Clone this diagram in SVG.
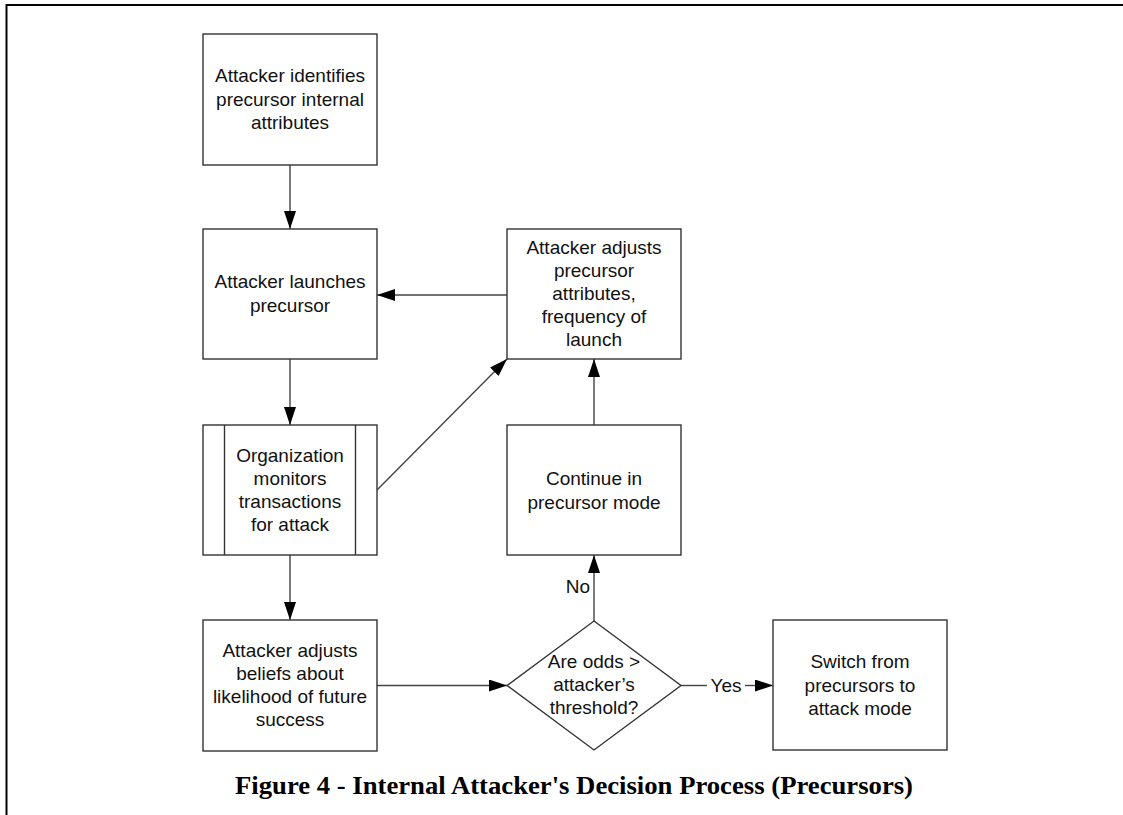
<svg xmlns="http://www.w3.org/2000/svg" width="1123" height="815" viewBox="0 0 1123 815">
  <defs>
    <marker id="arrow" viewBox="0 0 18 12" markerWidth="18" markerHeight="12" refX="18" refY="6" orient="auto" markerUnits="userSpaceOnUse">
      <path d="M0,0 L18,6 L0,12 Z" fill="#000"/>
    </marker>
    <style>
      .box { fill: #fff; stroke: #333; stroke-width: 1.4; }
      .edge { fill: none; stroke: #444; stroke-width: 1.4; }
      .arr { marker-end: url(#arrow); }
      .lbl { font-family: "Liberation Sans", Arial, sans-serif; font-size: 19px; fill: #111; text-anchor: middle; }
      .cap { font-family: "Liberation Serif", "Times New Roman", serif; font-size: 26px; font-weight: bold; fill: #000; }
    </style>
  </defs>

  <rect width="1123" height="815" fill="#fff"/>

  <!-- page frame -->
  <path d="M6.5,815 V5 H1123" fill="none" stroke="#000" stroke-width="2"/>

  <g id="connectors">
    <line class="edge arr" x1="290" y1="165" x2="290" y2="229"/>
    <line class="edge arr" x1="290" y1="359" x2="290" y2="425"/>
    <line class="edge arr" x1="290" y1="555" x2="290" y2="620"/>
    <line class="edge arr" x1="507" y1="295" x2="377" y2="295"/>
    <line class="edge arr" x1="377" y1="490" x2="507" y2="359"/>
    <line class="edge arr" x1="594" y1="425" x2="594" y2="359"/>
    <line class="edge arr" x1="377" y1="685.5" x2="507" y2="685.5"/>
    <line class="edge arr" x1="594" y1="621" x2="594" y2="555"/>
    <line class="edge" x1="681" y1="685.5" x2="707" y2="685.5"/>
    <line class="edge arr" x1="745" y1="685.5" x2="773" y2="685.5"/>
    <text class="lbl" x="590" y="593" style="text-anchor:end">No</text>
    <text class="lbl" x="726" y="692">Yes</text>
  </g>

  <g id="identify">
    <rect class="box" x="203" y="34" width="174" height="131"/>
    <text class="lbl" x="290" y="82">Attacker identifies</text>
    <text class="lbl" x="290" y="105.5">precursor internal</text>
    <text class="lbl" x="290" y="129">attributes</text>
  </g>

  <g id="launch">
    <rect class="box" x="203" y="229" width="174" height="130"/>
    <text class="lbl" x="290" y="288">Attacker launches</text>
    <text class="lbl" x="290" y="311.5">precursor</text>
  </g>

  <g id="monitor">
    <rect class="box" x="203" y="425" width="174" height="130"/>
    <line class="box" x1="224.5" y1="425" x2="224.5" y2="555"/>
    <line class="box" x1="355.5" y1="425" x2="355.5" y2="555"/>
    <text class="lbl" x="290" y="461.5">Organization</text>
    <text class="lbl" x="290" y="484.5">monitors</text>
    <text class="lbl" x="290" y="507.5">transactions</text>
    <text class="lbl" x="290" y="530.5">for attack</text>
  </g>

  <g id="beliefs">
    <rect class="box" x="203" y="620" width="174" height="131"/>
    <text class="lbl" x="290" y="657">Attacker adjusts</text>
    <text class="lbl" x="290" y="680">beliefs about</text>
    <text class="lbl" x="290" y="703">likelihood of future</text>
    <text class="lbl" x="290" y="726">success</text>
  </g>

  <g id="adjust">
    <rect class="box" x="507" y="229" width="174" height="130"/>
    <text class="lbl" x="594" y="254">Attacker adjusts</text>
    <text class="lbl" x="594" y="277">precursor</text>
    <text class="lbl" x="594" y="300">attributes,</text>
    <text class="lbl" x="594" y="323">frequency of</text>
    <text class="lbl" x="594" y="346">launch</text>
  </g>

  <g id="continue">
    <rect class="box" x="507" y="425" width="174" height="130"/>
    <text class="lbl" x="594" y="485">Continue in</text>
    <text class="lbl" x="594" y="508.5">precursor mode</text>
  </g>

  <g id="decision">
    <polygon class="box" points="594,621 681,685.5 594,750 507,685.5"/>
    <text class="lbl" x="594" y="668">Are odds &gt;</text>
    <text class="lbl" x="594" y="691">attacker’s</text>
    <text class="lbl" x="594" y="713.5">threshold?</text>
  </g>

  <g id="switch">
    <rect class="box" x="773" y="620" width="174" height="130"/>
    <text class="lbl" x="860" y="668">Switch from</text>
    <text class="lbl" x="860" y="691.5">precursors to</text>
    <text class="lbl" x="860" y="715">attack mode</text>
  </g>

  <text class="cap" x="235" y="794" textLength="678" lengthAdjust="spacingAndGlyphs">Figure 4 - Internal Attacker's Decision Process (Precursors)</text>
</svg>
